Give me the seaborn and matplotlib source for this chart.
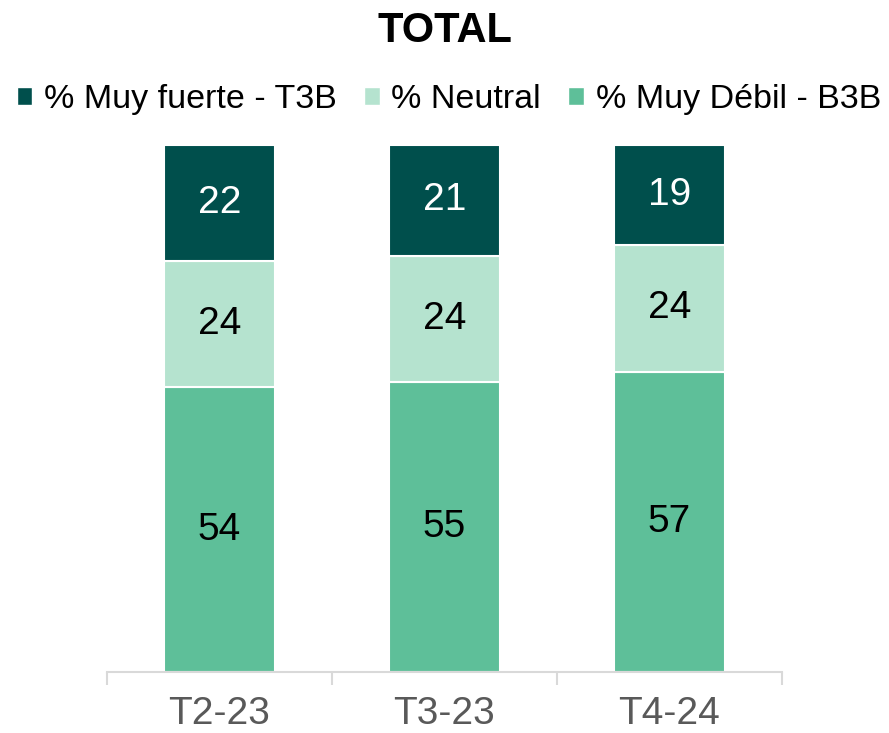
import matplotlib
matplotlib.use("Agg")
import matplotlib.pyplot as plt
import numpy as np
import pandas as pd
import seaborn as sns
from matplotlib.patches import Patch

periods = ["T2-23", "T3-23", "T4-24"]
debil = [54, 55, 57]
neutral = [24, 24, 24]
fuerte = [22, 21, 19]

labels = ["% Muy fuerte - T3B", "% Neutral", "% Muy Débil - B3B"]
colors = {"fuerte": "#004F4C", "neutral": "#B5E3CF", "debil": "#5EBF99"}

sns.set_theme(style="white")
plt.rcParams["font.family"] = ["Liberation Sans", "DejaVu Sans"]
plt.rcParams["text.color"] = "black"

df = pd.DataFrame({"period": periods, "debil": debil, "neutral": neutral, "fuerte": fuerte})

fig = plt.figure(figsize=(8.89, 7.33), dpi=100)
ax = fig.add_axes([0.1204, 0.0832, 0.7592, 0.719])

bottom = np.zeros(len(periods))
layers = [("debil", "black"), ("neutral", "black"), ("fuerte", "white")]
for key, txt_color in layers:
    sns.barplot(data=df, x="period", y=key, bottom=bottom, color=colors[key],
                width=0.49, edgecolor="white", linewidth=1.5, ax=ax, saturation=1)
    ax.bar_label(ax.containers[-1], labels=[str(v) for v in df[key]],
                 label_type="center", color=txt_color, fontsize=28)
    bottom = bottom + df[key].values

ax.set_ylim(0, 100)
ax.set_xlim(-0.5, 2.5)
ax.set_xlabel("")
ax.set_ylabel("")
ax.set_yticks([])
for s in ["top", "right", "left"]:
    ax.spines[s].set_visible(False)
ax.spines["bottom"].set_color("#D9D9D9")
ax.spines["bottom"].set_linewidth(1.5)
ax.tick_params(axis="x", which="major", length=0, labelsize=28, labelcolor="#595959", pad=17)
ax.set_xticks([-0.5, 0.5, 1.5, 2.5], minor=True)
ax.tick_params(axis="x", which="minor", length=9.5, width=1.5, color="#D9D9D9", bottom=True)

fig.text(0.5, 0.958, "TOTAL", ha="center", va="center", fontsize=30,
         fontweight="bold", color="black")

handles = [Patch(facecolor=colors["fuerte"], label=labels[0]),
           Patch(facecolor=colors["neutral"], label=labels[1]),
           Patch(facecolor=colors["debil"], label=labels[2])]
fig.legend(handles=handles, loc="center", bbox_to_anchor=(0.505, 0.864), ncol=3,
           frameon=False, fontsize=24.5, handlelength=0.45, handleheight=0.45,
           handletextpad=0.35, columnspacing=0.8, labelcolor="black")

fig.savefig("out.png", dpi=100)
